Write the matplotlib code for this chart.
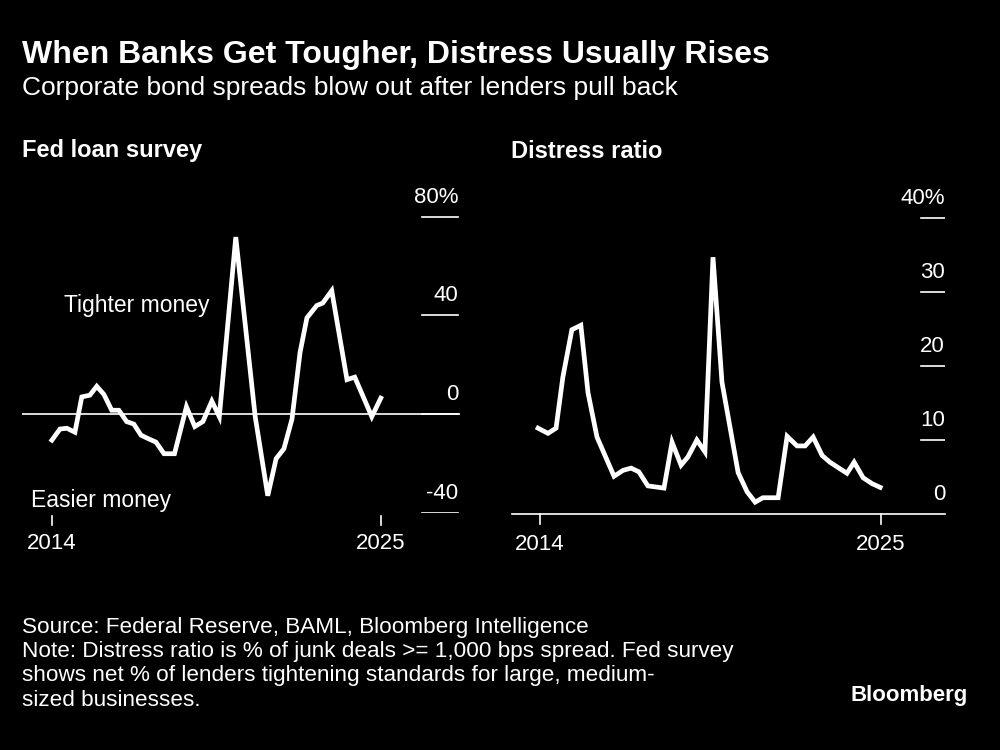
import matplotlib
matplotlib.use("Agg")
import matplotlib.pyplot as plt

fed_years = [2014.0, 2014.27, 2014.5, 2014.77, 2015.0, 2015.27, 2015.5, 2015.74, 2016.0, 2016.24,
             2016.5, 2016.74, 2016.98, 2017.24, 2017.48, 2017.75, 2018.1, 2018.5, 2018.78, 2019.05,
             2019.35, 2019.6, 2020.15, 2020.8, 2021.22, 2021.5, 2021.76, 2022.03, 2022.3, 2022.53,
             2022.86, 2023.06, 2023.36, 2023.87, 2024.13, 2024.7, 2025.0]
fed_vals = [-10.5, -6, -5.7, -7.3, 7, 7.7, 11.3, 8, 1.6, 1.6,
            -3, -4, -8.5, -10, -11.3, -16, -16, 3, -5, -3,
            5.3, -1, 71.7, -1, -33, -18, -14, -2, 25, 39,
            44, 45, 50, 14, 15, -1, 6.5]

dis_years = [2013.94, 2014.26, 2014.52, 2014.74, 2015.03, 2015.32, 2015.55, 2015.84, 2016.13, 2016.39,
             2016.68, 2016.94, 2017.19, 2017.48, 2018.0, 2018.26, 2018.55, 2018.77, 2019.06, 2019.32,
             2019.58, 2019.87, 2020.39, 2020.68, 2020.94, 2021.19, 2021.68, 2021.97, 2022.29, 2022.55,
             2022.81, 2023.10, 2023.35, 2023.90, 2024.13, 2024.42, 2024.71, 2024.97]
dis_vals = [11.6, 10.9, 11.6, 18.5, 24.9, 25.5, 16.4, 10.4, 7.6, 5.1,
            5.9, 6.2, 5.7, 3.8, 3.5, 9.7, 6.6, 7.7, 10.0, 8.4,
            34.7, 17.8, 5.6, 3.0, 1.6, 2.2, 2.2, 10.5, 9.2, 9.2,
            10.4, 7.9, 7.0, 5.5, 7.0, 4.9, 4.1, 3.6]

fed_ticks = [-40, 0, 40, 80]
dis_ticks = [0, 10, 20, 30, 40]
x_ticks = [2014, 2025]

plt.rcParams['font.family'] = ['Liberation Sans', 'DejaVu Sans']
W, H = 1000, 750
fig = plt.figure(figsize=(10, 7.5), dpi=100, facecolor='black')

def fx(px): return px / W
def fy(py): return 1 - py / H

fig.text(fx(22), fy(55), "When Banks Get Tougher, Distress Usually Rises", color='white',
         fontsize=23, fontweight='bold', va='center')
fig.text(fx(22), fy(88), "Corporate bond spreads blow out after lenders pull back", color='white',
         fontsize=19, va='center')
fig.text(fx(22), fy(151), "Fed loan survey", color='white', fontsize=17, fontweight='bold',
         va='center')
fig.text(fx(511), fy(151), "Distress ratio", color='white', fontsize=17, fontweight='bold',
         va='center')

def setup(ax):
    ax.set_facecolor('black')
    for s in ax.spines.values():
        s.set_visible(False)
    ax.set_yticks([])
    ax.set_xticks([])

# Left panel
ax1 = fig.add_axes([fx(22), fy(513), fx(460 - 22), (513 - 200) / H])
setup(ax1)
ax1.set_xlim(2013.0, 2027.65)
ax1.set_ylim(-40, -40 + 313 / 2.47)
ax1.axhline(0, color='white', lw=1.2, xmin=0, xmax=1)
ax1.plot(fed_years, fed_vals, color='white', lw=3.4, solid_joinstyle='miter')
for v in fed_ticks:
    ax1.plot([2027.65 - 38 / 29.9, 2027.65 - 2 / 29.9], [v, v], color='white', lw=1.2)
    lab = f"{v}%" if v == 80 else f"{v}"
    ax1.annotate(lab, (2027.65 - 2 / 29.9, v), xytext=(0, 9), textcoords='offset pixels',
                 ha='right', va='bottom', color='white', fontsize=16)
for t in x_ticks:
    ax1.plot([t, t], [-40 - 3 / 2.47, -40 - 12 / 2.47], color='white', lw=1.2, clip_on=False)
    ax1.text(t, -40 - 20 / 2.47, str(t), ha='center', va='top', color='white', fontsize=16)
ax1.text(2014.4, 44, "Tighter money", color='white', fontsize=16.5, ha='left', va='center')
ax1.text(2013.3, -35, "Easier money", color='white', fontsize=16.5, ha='left', va='center')

# Right panel
ax2 = fig.add_axes([fx(512), fy(514), fx(945 - 512), (514 - 200) / H])
setup(ax2)
ax2.set_xlim(2013.1, 2027.06)
ax2.set_ylim(0, 314 / 7.4)
ax2.plot([2013.1, 2027.06], [0, 0], color='white', lw=1.2, clip_on=False)
ax2.plot(dis_years, dis_vals, color='white', lw=3.4, solid_joinstyle='miter')
for v in dis_ticks:
    if v > 0:
        ax2.plot([2027.06 - 24 / 31, 2027.06], [v, v], color='white', lw=1.2)
    lab = f"{v}%" if v == 40 else f"{v}"
    ax2.annotate(lab, (2027.06, v), xytext=(0, 9), textcoords='offset pixels',
                 ha='right', va='bottom', color='white', fontsize=16)
for t in x_ticks:
    ax2.plot([t, t], [0, -10 / 7.4], color='white', lw=1.2, clip_on=False)
    ax2.text(t, -20 / 7.4, str(t), ha='center', va='top', color='white', fontsize=16)

foot = ["Source: Federal Reserve, BAML, Bloomberg Intelligence",
        "Note: Distress ratio is % of junk deals >= 1,000 bps spread. Fed survey",
        "shows net % of lenders tightening standards for large, medium-",
        "sized businesses."]
for i, line in enumerate(foot):
    fig.text(fx(22), fy(628 + 24 * i), line, color='white', fontsize=16.2, va='center')
fig.text(fx(968), fy(695), "Bloomberg", color='white', fontsize=16, fontweight='bold',
         ha='right', va='center')

fig.savefig("out.png", dpi=100, facecolor='black')
